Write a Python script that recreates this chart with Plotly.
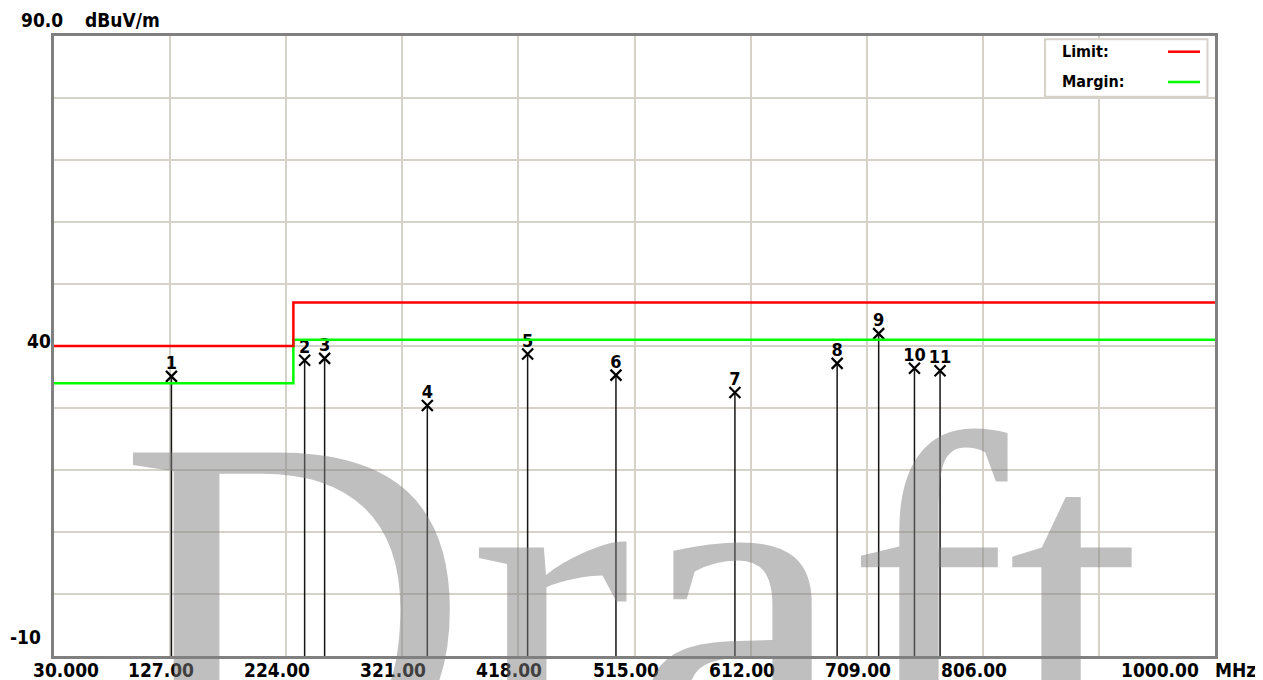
import plotly.graph_objects as go

# ---------------- data ----------------
marker_freq = [128.1, 239.4, 256.1, 341.9, 425.7, 499.5, 598.9, 684.3, 719.0, 748.9, 770.3]
marker_level = [35.1, 37.7, 38.0, 30.4, 38.7, 35.3, 32.5, 37.2, 42.0, 36.4, 36.0]
marker_labels = ["1", "2", "3", "4", "5", "6", "7", "8", "9", "10", "11"]

limit_freq = [30, 230, 230, 1000]
limit_level = [40, 40, 47, 47]
margin_level = [34, 34, 41, 41]

x_tick_vals = [30, 127, 224, 321, 418, 515, 612, 709, 806, 903, 1000]
x_tick_text = ["30.000", "127.00", "224.00", "321.00", "418.00", "515.00",
               "612.00", "709.00", "806.00", "", "1000.00"]
x_unit = "MHz"

y_grid_vals = [-10, 0, 10, 20, 30, 40, 50, 60, 70, 80, 90]
y_label_vals = [90, 40, -10]
y_label_text = ["90.0", "40", "-10"]
y_unit = "dBuV/m"

legend_names = ["Limit:", "Margin:"]
watermark = "Draft"

# ---------------- styling ----------------
OFF = 8  # page body margin of the browser
W, H = 1263 - OFF, 680 - OFF
ML, MR, MT, MB = 54 - OFF, 48, 36 - OFF, 24
PW, PH = W - ML - MR, H - MT - MB
FONT = "DejaVu Sans Condensed, Liberation Sans Narrow, Liberation Sans, Arial, sans-serif"
GRID = "#d6d2ca"
FRAME = "#808080"


def px_x(p):
    return (p - OFF - ML) / PW


def px_y(p):
    return (H - MB - (p - OFF)) / PH


fig = go.Figure()

# stems
sx, sy = [], []
for f, l in zip(marker_freq, marker_level):
    sx += [f, f, None]
    sy += [-10, l, None]
fig.add_trace(go.Scatter(x=sx, y=sy, mode="lines",
                         line=dict(color="#151515", width=1.5),
                         hoverinfo="skip", showlegend=False))

# X markers
fig.add_trace(go.Scatter(x=marker_freq, y=marker_level, mode="markers",
                         marker=dict(symbol="x-thin", size=11,
                                     line=dict(color="black", width=2.2)),
                         showlegend=False))

# marker numbers
fig.add_trace(go.Scatter(x=marker_freq, y=marker_level, mode="markers+text",
                         text=marker_labels, textposition="top center",
                         textfont=dict(family=FONT, size=18, color="black", weight="bold"),
                         marker=dict(size=3, color="rgba(0,0,0,0)"),
                         hoverinfo="skip", showlegend=False))

# margin & limit lines
fig.add_trace(go.Scatter(x=limit_freq, y=margin_level, mode="lines",
                         line=dict(color="#00ff00", width=2.5), name="Margin",
                         showlegend=False))
fig.add_trace(go.Scatter(x=limit_freq, y=limit_level, mode="lines",
                         line=dict(color="#ff0000", width=2.5), name="Limit",
                         showlegend=False))

annotations = []
LABEL_FONT = dict(family=FONT, size=19, color="black", weight="bold")
# x tick labels
n = len(x_tick_vals)
for i, (v, t) in enumerate(zip(x_tick_vals, x_tick_text)):
    if not t:
        continue
    shift = -9
    if i == 0:
        shift = 12
    elif i == n - 1:
        shift = -55
    annotations.append(dict(x=v, y=0, xref="x", yref="paper", text=t,
                            xanchor="center", yanchor="top", xshift=shift, yshift=-1,
                            showarrow=False, font=LABEL_FONT))
annotations.append(dict(x=x_tick_vals[-1], y=0, xref="x", yref="paper", text=x_unit,
                        xanchor="left", yanchor="top", xshift=-2, yshift=-1,
                        showarrow=False, font=LABEL_FONT))

# y labels
y_left_px = [21, 27, 10]
y_shift = [16.5, 5, 19]
for v, t, lp, ys in zip(y_label_vals, y_label_text, y_left_px, y_shift):
    annotations.append(dict(x=0, y=v, xref="paper", yref="y", text=t,
                            xanchor="left", yanchor="middle",
                            xshift=lp - OFF - ML - 2, yshift=ys,
                            showarrow=False, font=LABEL_FONT))
annotations.append(dict(x=0, y=y_label_vals[0], xref="paper", yref="y", text=y_unit,
                        xanchor="left", yanchor="middle", xshift=85 - OFF - ML - 2,
                        yshift=16.5, showarrow=False, font=LABEL_FONT))

# legend texts
for name, py in zip(legend_names, [51.7, 81.7]):
    annotations.append(dict(x=px_x(1060), y=px_y(py), xref="paper", yref="paper", text=name,
                            xanchor="left", yanchor="middle", showarrow=False,
                            font=dict(family=FONT, size=16, color="black", weight="bold")))

# watermark
annotations.append(dict(x=px_x(117), y=px_y(336), xref="paper", yref="paper",
                        text=watermark, xanchor="left", yanchor="top", showarrow=False,
                        font=dict(family="Liberation Serif, Times New Roman, serif",
                                  size=485, color="rgba(128,128,128,0.5)")))

shapes = [
    dict(type="rect", xref="paper", yref="paper", x0=px_x(1045), x1=px_x(1207.5),
         y0=px_y(96.7), y1=px_y(39.3), line=dict(color=GRID, width=2),
         fillcolor="white", layer="above"),
    dict(type="line", xref="paper", yref="paper", x0=px_x(1168), x1=px_x(1200),
         y0=px_y(51.7), y1=px_y(51.7), line=dict(color="#ff0000", width=2.5), layer="above"),
    dict(type="line", xref="paper", yref="paper", x0=px_x(1168), x1=px_x(1200),
         y0=px_y(82), y1=px_y(82), line=dict(color="#00ff00", width=2.5), layer="above"),
]

fig.update_layout(
    width=W, height=H,
    margin=dict(l=ML, r=MR, t=MT, b=MB, pad=0),
    paper_bgcolor="white", plot_bgcolor="white",
    showlegend=False,
    annotations=annotations,
    shapes=shapes,
    xaxis=dict(range=[30, 1000], tickvals=x_tick_vals, showticklabels=False,
               showgrid=True, gridcolor=GRID, gridwidth=2, zeroline=False,
               showline=True, linecolor=FRAME, linewidth=3, mirror=True, ticks="",
               fixedrange=True),
    yaxis=dict(range=[-10, 90], tickvals=y_grid_vals, showticklabels=False,
               showgrid=True, gridcolor=GRID, gridwidth=2, zeroline=False,
               showline=True, linecolor=FRAME, linewidth=3, mirror=True, ticks="",
               fixedrange=True),
)

fig.write_html("out.html")
